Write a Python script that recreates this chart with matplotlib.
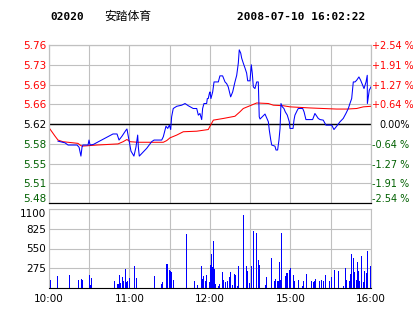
import matplotlib
matplotlib.use("Agg")
import matplotlib.pyplot as plt
from matplotlib.transforms import ScaledTranslation

plt.rcParams["font.family"] = ["DejaVu Sans"]

# ---------- data (minutes since 10:00, 240 = 16:00) ----------
PREV_CLOSE = 5.62
PCT_STEPS = [2.54, 1.91, 1.27, 0.64, 0.00, -0.64, -1.27, -1.91, -2.54]
PRICE_LABELS = ["5.76", "5.73", "5.69", "5.66", "5.62", "5.58", "5.55", "5.51", "5.48"]
PCT_LABELS = ["+2.54 %", "+1.91 %", "+1.27 %", "+0.64 %", "0.00%",
              "-0.64 %", "-1.27 %", "-1.91 %", "-2.54 %"]
TIME_LABELS = ["10:00", "", "11:00", "", "12:00", "", "15:00", "", "16:00"]

price_t = [6.7, 11.9, 14.2, 20.9, 22.4, 23.8, 24.6, 25.3, 29.1, 29.8, 30.6, 33.0, 40.0,
           47.7, 50.7, 52.2, 54.4, 57.4, 58.1, 59.6, 61.1, 63.3, 64.8, 66.1, 66.6, 67.3,
           72.8, 76.5, 78.3, 84.0, 85.2, 87.2, 88.5, 89.7, 90.7, 91.4, 92.6, 95.2, 98.9,
           101.4, 103.8, 107.5, 110.1, 111.3, 112.5, 113.8, 114.5, 115.5, 117.5, 118.0,
           118.7, 119.5, 120.0, 120.7, 122.0, 123.0, 126.2, 127.4, 129.4, 131.2, 132.4,
           133.6, 135.4, 136.9, 138.6, 139.9, 141.1, 141.8, 142.9, 143.6, 144.8, 146.1,
           147.3, 148.1, 149.8, 150.8, 151.5, 152.3, 153.5, 154.8, 156.0, 156.7, 157.3,
           159.3, 161.0, 163.5, 164.2, 165.3, 166.0, 168.4, 169.2, 170.4, 171.4, 172.2,
           172.9, 173.9, 175.1, 176.1, 177.6, 179.1, 179.6, 181.9, 182.6, 183.3, 185.1,
           185.8, 189.1, 190.1, 191.5, 196.5, 198.2, 200.7, 202.0, 204.4, 205.7, 206.4,
           210.7, 212.4, 214.4, 216.9, 219.3, 221.3, 223.1, 224.3, 225.6, 226.8, 228.1,
           229.3, 231.0, 232.3, 233.8, 234.8, 236.3, 237.2, 237.3, 238.0, 238.7, 240.0]
price_v = [5.589, 5.586, 5.582, 5.582, 5.578, 5.562, 5.578, 5.582, 5.582, 5.591, 5.582,
           5.583, 5.592, 5.602, 5.602, 5.591, 5.598, 5.609, 5.611, 5.591, 5.571, 5.562,
           5.578, 5.600, 5.578, 5.562, 5.576, 5.588, 5.591, 5.591, 5.597, 5.616, 5.612,
           5.618, 5.610, 5.633, 5.648, 5.652, 5.654, 5.657, 5.653, 5.648, 5.648, 5.636,
           5.639, 5.628, 5.648, 5.657, 5.657, 5.666, 5.666, 5.675, 5.678, 5.666, 5.678,
           5.696, 5.696, 5.707, 5.707, 5.696, 5.693, 5.687, 5.669, 5.678, 5.696, 5.708,
           5.730, 5.754, 5.748, 5.739, 5.730, 5.721, 5.712, 5.698, 5.698, 5.727, 5.712,
           5.687, 5.684, 5.696, 5.696, 5.633, 5.629, 5.634, 5.638, 5.624, 5.609, 5.591,
           5.582, 5.580, 5.573, 5.573, 5.591, 5.612, 5.657, 5.651, 5.648, 5.642, 5.636,
           5.624, 5.612, 5.612, 5.627, 5.636, 5.645, 5.648, 5.648, 5.642, 5.628, 5.628,
           5.639, 5.630, 5.628, 5.627, 5.621, 5.618, 5.618, 5.610, 5.616, 5.624, 5.630,
           5.639, 5.648, 5.657, 5.666, 5.696, 5.696, 5.699, 5.705, 5.699, 5.690, 5.684,
           5.696, 5.708, 5.657, 5.669, 5.681, 5.687]

avg_t = [0.7, 4.5, 6.7, 10.4, 21.6, 23.1, 24.6, 35.8, 51.4, 55.2, 58.1, 60.4, 66.3, 85.2,
         87.7, 90.2, 95.2, 100.1, 110.1, 118.7, 120.0, 122.5, 129.9, 138.6, 142.3, 144.8,
         149.8, 154.8, 163.5, 167.2, 174.6, 179.6, 194.5, 214.4, 221.9, 229.3, 234.3, 240.0]
avg_v = [5.611, 5.598, 5.591, 5.588, 5.585, 5.582, 5.580, 5.582, 5.584, 5.588, 5.592,
         5.588, 5.587, 5.587, 5.590, 5.595, 5.600, 5.606, 5.607, 5.610, 5.616, 5.627,
         5.630, 5.634, 5.642, 5.648, 5.653, 5.658, 5.657, 5.654, 5.653, 5.651, 5.649,
         5.647, 5.647, 5.648, 5.651, 5.652]

vol_t = [1.0, 6.5, 15.1, 21.8, 24.1, 24.8, 30.0, 30.8, 31.5, 48.7, 50.9, 51.6, 52.4, 53.4,
         54.6, 55.4, 56.9, 57.6, 58.4, 59.8, 63.6, 65.4, 78.3, 83.7, 84.4, 87.7, 88.5,
         89.7, 90.4, 91.1, 92.6, 102.3, 108.3, 110.5, 113.5, 114.3, 115.0, 116.5, 117.2,
         119.5, 120.2, 121.0, 121.7, 122.5, 123.2, 123.9, 126.2, 126.9, 129.2, 129.9,
         131.4, 132.9, 134.4, 135.1, 136.6, 138.1, 138.8, 140.3, 141.1, 144.8, 147.0,
         147.8, 149.3, 150.8, 152.3, 154.5, 156.0, 156.7, 161.2, 162.0, 165.7, 167.9,
         168.7, 170.2, 170.9, 171.6, 172.4, 173.4, 176.4, 177.2, 177.9, 179.4, 180.1,
         182.4, 183.1, 185.8, 188.8, 189.5, 192.1, 195.5, 197.0, 197.7, 198.8, 201.5,
         203.0, 204.5, 205.9, 208.9, 210.4, 212.6, 215.6, 219.3, 220.8, 221.6, 223.8,
         224.6, 225.3, 226.8, 227.5, 229.0, 229.8, 230.5, 231.3, 232.8, 234.3, 235.5,
         236.5, 237.2, 239.5]
vol_v = [116, 172, 186, 116, 125, 116, 186, 46, 139, 102, 60, 60, 186, 70, 149, 102, 269,
         79, 102, 139, 311, 139, 172, 60, 79, 339, 339, 255, 241, 218, 116, 756, 93, 46,
         311, 130, 172, 93, 186, 79, 325, 478, 292, 659, 269, 60, 32, 60, 218, 116, 79,
         102, 149, 218, 46, 200, 186, 23, 311, 1021, 311, 232, 70, 311, 798, 766, 394,
         325, 46, 153, 418, 93, 125, 93, 93, 362, 116, 766, 172, 209, 209, 255, 278, 186,
         93, 116, 32, 93, 200, 102, 79, 102, 125, 93, 116, 102, 186, 93, 153, 255, 241,
         32, 278, 116, 93, 200, 478, 418, 218, 116, 357, 232, 93, 450, 79, 232, 209, 510,
         302]

RED, GREEN, GRID = "#FF0000", "#006000", "#C0C0C0"
price_ticks = [PREV_CLOSE * (1 + p / 100) for p in PCT_STEPS]
label_colors = [RED if p > 0 else ("black" if p == 0 else GREEN) for p in PCT_STEPS]
xgrid = list(range(0, 241, 30))

fig = plt.figure(figsize=(4.14, 3.14), dpi=100)
ax = fig.add_axes([49 / 414, 1 - 203 / 314, 322 / 414, 158 / 314])
axv = fig.add_axes([49 / 414, 1 - 288 / 314, 322 / 414, 79 / 314])


def shift(lbl, dx, dy):
    # 像素偏移 (dpi=100)
    lbl.set_transform(lbl.get_transform() + ScaledTranslation(dx / 100, dy / 100, fig.dpi_scale_trans))


# ---------- 价格面板 ----------
ax.plot(avg_t, avg_v, color=RED, lw=0.75, zorder=3)
ax.plot(price_t, price_v, color="#0000FF", lw=0.75, zorder=4)
ax.axhline(PREV_CLOSE, color="black", lw=1.0, zorder=2)
ax.set_xlim(0, 240)
ax.set_ylim(price_ticks[-1], price_ticks[0])
ax.set_xticks(xgrid); ax.set_xticklabels([])
ax.set_yticks(price_ticks)
ax.tick_params(length=0, pad=2)
ax.grid(color=GRID, lw=0.8, zorder=0)
ax.set_yticklabels(PRICE_LABELS, fontsize=7.5)
ax2 = ax.twinx()
ax2.set_ylim(ax.get_ylim())
ax2.set_yticks(price_ticks)
ax2.tick_params(length=0, pad=1)
ax2.set_yticklabels(PCT_LABELS, fontsize=7)
for a in (ax, ax2):
    for s in a.spines.values():
        s.set_color(GRID); s.set_linewidth(0.8)
    a.spines["bottom"].set_color("black")

# ---------- 成交量面板 ----------
axv.bar(vol_t, vol_v, width=0.75, color="#0000FF", linewidth=0, zorder=3)
axv.set_xlim(0, 240); axv.set_ylim(0, 1100)
axv.set_xticks(xgrid)
axv.set_yticks([275, 550, 825, 1100])
axv.tick_params(length=0, pad=2)
axv.tick_params(axis="x", pad=4)
axv.grid(color=GRID, lw=0.8, zorder=0)
axv.set_xticklabels(TIME_LABELS, fontsize=7.5)
axv.set_yticklabels(["275", "550", "825", "1100"], fontsize=7.5)
for s in axv.spines.values():
    s.set_color(GRID); s.set_linewidth(0.8)
axv.spines["bottom"].set_color("black")

# 标签颜色与微调位置 (放在 tick_params 之后)
for lbl, c in zip(ax.get_yticklabels(), label_colors):
    lbl.set_color(c)
for lbl, c in zip(ax2.get_yticklabels(), label_colors):
    lbl.set_color(c)
shift(ax.get_yticklabels()[-1], 0, 5)
shift(ax2.get_yticklabels()[4], 7, 0)
shift(ax2.get_yticklabels()[-1], 0, 5)
shift(axv.get_yticklabels()[-1], 0, -4)

# ---------- 标题 ----------
fig.text(50 / 414, 1 - 17 / 314, "02020", family="DejaVu Sans Mono", weight="bold",
         fontsize=8, va="center")
fig.text(104 / 414, 1 - 16 / 314, "安踏体育", family=["Noto Sans CJK SC", "DejaVu Sans"],
         fontsize=8.5, va="center")
fig.text(237 / 414, 1 - 17 / 314, "2008-07-10 16:02:22", family="DejaVu Sans Mono",
         weight="bold", fontsize=8, va="center")

fig.savefig("out.png", dpi=100)
